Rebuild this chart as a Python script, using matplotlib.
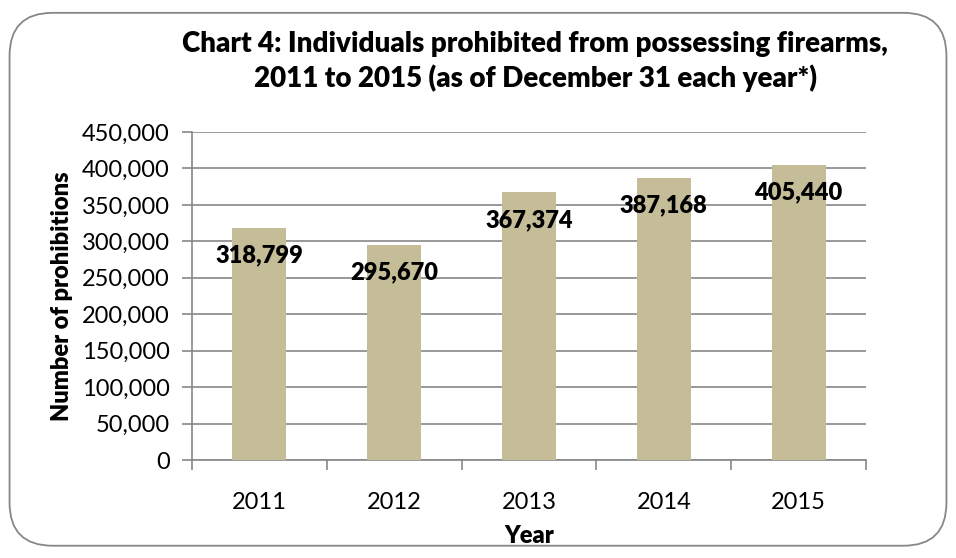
import numpy as np
import matplotlib.pyplot as plt
from matplotlib.patches import FancyBboxPatch

years = ['2011', '2012', '2013', '2014', '2015']
prohibitions = [318799, 295670, 367374, 387168, 405440]
yticks = np.arange(0, 450001, 50000)

plt.rcParams['font.family'] = ['Lato', 'DejaVu Sans']

fig = plt.figure(figsize=[9.56, 5.58], dpi=100)
ax = fig.add_axes([0.2008, 0.1756, 0.7050, 0.5878])

# rounded frame around the whole chart
frame = FancyBboxPatch((0.010, 0.022), 0.980, 0.955, boxstyle='round,pad=0,rounding_size=0.045',
                       transform=fig.transFigure, fill=False, edgecolor='#878787', linewidth=1.3,
                       mutation_aspect=956/558)
fig.patches.append(frame)

x = np.arange(len(years))
ax.bar(x, prohibitions, width=0.4, color='#C4BD97', zorder=3)

for xi, v in zip(x, prohibitions):
    ax.annotate(f'{v:,}', (xi, v), xytext=(0, -20), textcoords='offset points',
                ha='center', va='center', fontsize=17, fontweight='heavy', zorder=4)

ax.set_xlim(-0.5, len(years) - 0.5)
ax.set_ylim(0, 450000)
ax.set_yticks(yticks)
ax.set_yticklabels([f'{t:,}' for t in yticks], fontsize=17)
ax.set_xticks(x)
ax.set_xticklabels(years, fontsize=17)
ax.set_xticks(np.arange(-0.5, len(years)), minor=True)
ax.tick_params(axis='x', which='major', length=0, pad=23)
ax.tick_params(axis='x', which='minor', length=7, color='#878787', width=1.2)
ax.tick_params(axis='y', length=7, color='#878787', width=1.2, pad=9)

ax.yaxis.grid(True, color='#878787', linewidth=1.2, zorder=0)
for s in ['top', 'right']:
    ax.spines[s].set_visible(False)
for s in ['left', 'bottom']:
    ax.spines[s].set_color('#878787')
    ax.spines[s].set_linewidth(1.2)

ax.set_xlabel('Year', fontsize=17, fontweight='heavy', labelpad=9)
ax.set_ylabel('Number of prohibitions', fontsize=17, fontweight='heavy', labelpad=6)

fig.text(0.56, 0.89, 'Chart 4: Individuals prohibited from possessing firearms,\n2011 to 2015 (as of December 31 each year*)',
         ha='center', va='center', fontsize=20, fontweight='heavy', linespacing=1.3)

plt.savefig('out.png', dpi=100)
